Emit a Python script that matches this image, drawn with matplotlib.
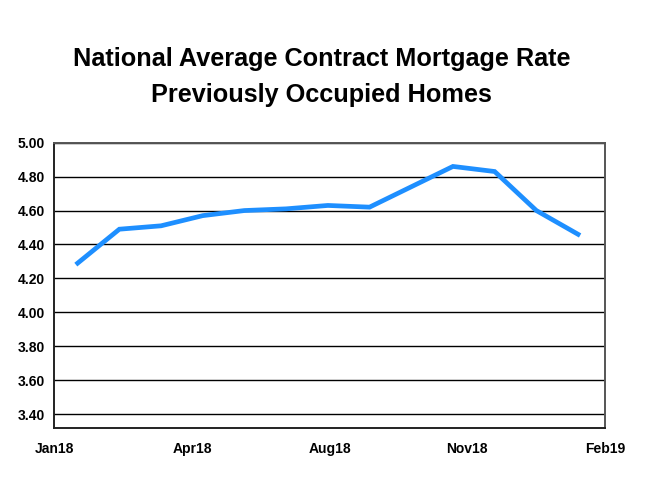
import numpy as np
import matplotlib
matplotlib.use('Agg')
import matplotlib.pyplot as plt

plt.rcParams['font.family'] = ['Liberation Sans', 'DejaVu Sans']

# monthly contract rate, Jan18 .. Jan19
rates = [4.29, 4.49, 4.51, 4.57, 4.60, 4.61, 4.63, 4.62, 4.74, 4.86, 4.83, 4.60, 4.46]
xlabels = ['Jan18', 'Apr18', 'Aug18', 'Nov18', 'Feb19']
yticks = [3.40, 3.60, 3.80, 4.00, 4.20, 4.40, 4.60, 4.80, 5.00]

fig = plt.figure(figsize=(6.47, 4.92), dpi=100)
ax = fig.add_axes([0.0842, 0.130, 0.8508, 0.580])

x = np.arange(len(rates))
ax.plot(x, rates, color='#1e8fff', lw=3.4, solid_joinstyle='miter', zorder=3)

ax.set_xlim(-0.556, 12.645)
ax.set_ylim(3.318, 5.0)
ax.set_yticks(yticks)
ax.set_yticklabels([f'{v:.2f}' for v in yticks], fontsize=10, fontweight='bold')
ax.set_xticks(np.linspace(-0.556, 12.645, len(xlabels)))
ax.set_xticklabels(xlabels, fontsize=10, fontweight='bold')
ax.tick_params(length=0, pad=7)
ax.tick_params(axis='x', pad=10)
ax.yaxis.grid(True, color='black', lw=1)
ax.set_axisbelow(True)
for side in ['left', 'bottom']:
    ax.spines[side].set_color('#222222')
    ax.spines[side].set_linewidth(1.4)
for side in ['top', 'right']:
    ax.spines[side].set_color('#555555')
    ax.spines[side].set_linewidth(1.4)

fig.text(0.497, 0.843, 'National Average Contract Mortgage Rate\nPreviously Occupied Homes',
         ha='center', va='center', fontsize=18.2, fontweight='bold', linespacing=1.62)

fig.savefig('out.png', dpi=100)
